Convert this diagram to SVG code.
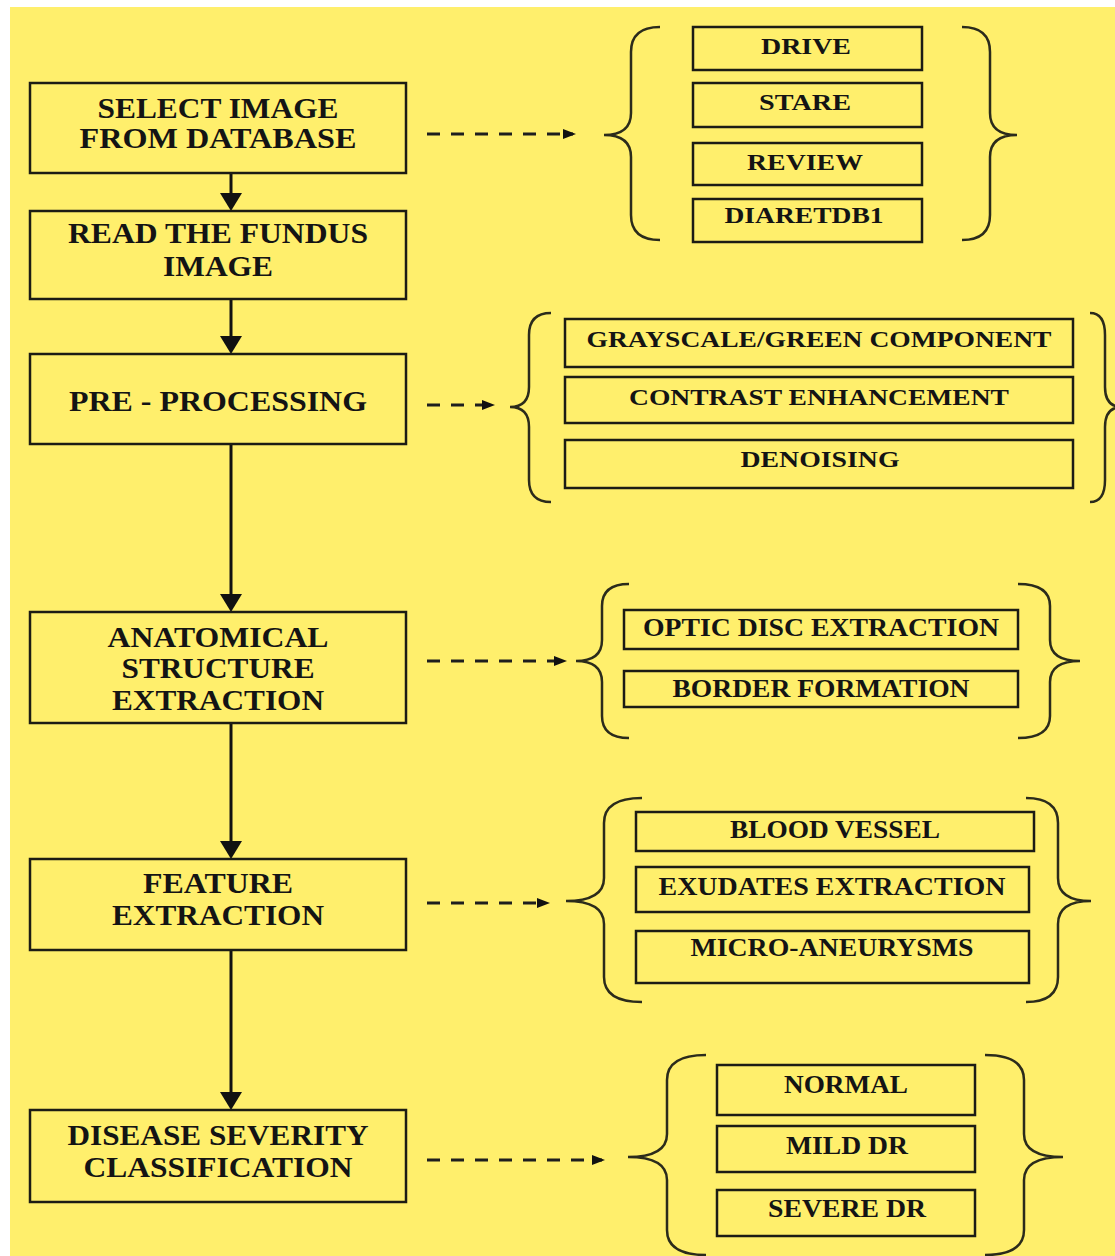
<svg xmlns="http://www.w3.org/2000/svg" width="1115" height="1256" viewBox="0 0 1115 1256">
<style>
.bg{fill:#FFEF6C}
.box{fill:none;stroke:#1c1c14;stroke-width:2.5}
.brace{fill:none;stroke:#2b2b1b;stroke-width:2.5}
.t{font-family:"Liberation Serif","Times New Roman",serif;font-weight:bold;text-anchor:middle;fill:#141414}
.big{font-size:29px}
.sm{font-size:24px}
.flow{fill:none;stroke:#111;stroke-width:3;marker-end:url(#ah)}
.dash{fill:none;stroke:#1e1e1e;stroke-width:3;stroke-dasharray:13 11;marker-end:url(#ahs)}
</style>
<defs>
<marker id="ah" viewBox="0 0 18 22" refX="14" refY="11" markerWidth="18" markerHeight="22" markerUnits="userSpaceOnUse" orient="auto">
<path d="M0,0 L18,11 L0,22 Z" fill="#111"/>
</marker>
<marker id="ahs" viewBox="0 0 13 10" refX="10" refY="5" markerWidth="13" markerHeight="10" markerUnits="userSpaceOnUse" orient="auto">
<path d="M0,0 L13,5 L0,10 Z" fill="#111"/>
</marker>
</defs>
<rect class="bg" x="10" y="7" width="1105" height="1249"/>

<g id="connectors">
<line class="flow" x1="231" y1="173" x2="231" y2="207"/>
<line class="flow" x1="231" y1="299" x2="231" y2="350"/>
<line class="flow" x1="231" y1="444" x2="231" y2="608"/>
<line class="flow" x1="231" y1="723" x2="231" y2="855"/>
<line class="flow" x1="231" y1="950" x2="231" y2="1106"/>
<line class="dash" x1="427" y1="134" x2="573" y2="134"/>
<line class="dash" x1="427" y1="405" x2="492" y2="405"/>
<line class="dash" x1="427" y1="661" x2="564" y2="661"/>
<line class="dash" x1="427" y1="903" x2="547" y2="903"/>
<line class="dash" x1="427" y1="1160" x2="602" y2="1160"/>
</g>

<g id="select-image">
<rect class="box" x="30" y="83" width="376" height="90"/>
<text class="t big" x="218" y="118" textLength="241" lengthAdjust="spacingAndGlyphs">SELECT IMAGE</text>
<text class="t big" x="218" y="148" textLength="277" lengthAdjust="spacingAndGlyphs">FROM DATABASE</text>
</g>
<g id="read-fundus">
<rect class="box" x="30" y="211" width="376" height="88"/>
<text class="t big" x="218" y="243" textLength="300" lengthAdjust="spacingAndGlyphs">READ THE FUNDUS</text>
<text class="t big" x="218" y="276" textLength="110" lengthAdjust="spacingAndGlyphs">IMAGE</text>
</g>
<g id="pre-processing">
<rect class="box" x="30" y="354" width="376" height="90"/>
<text class="t big" x="218" y="411" textLength="298" lengthAdjust="spacingAndGlyphs">PRE - PROCESSING</text>
</g>
<g id="anatomical">
<rect class="box" x="30" y="612" width="376" height="111"/>
<text class="t big" x="218" y="647" textLength="221" lengthAdjust="spacingAndGlyphs">ANATOMICAL</text>
<text class="t big" x="218" y="678" textLength="193" lengthAdjust="spacingAndGlyphs">STRUCTURE</text>
<text class="t big" x="218" y="710" textLength="212" lengthAdjust="spacingAndGlyphs">EXTRACTION</text>
</g>
<g id="feature">
<rect class="box" x="30" y="859" width="376" height="91"/>
<text class="t big" x="218" y="893" textLength="150" lengthAdjust="spacingAndGlyphs">FEATURE</text>
<text class="t big" x="218" y="925" textLength="212" lengthAdjust="spacingAndGlyphs">EXTRACTION</text>
</g>
<g id="severity">
<rect class="box" x="30" y="1110" width="376" height="92"/>
<text class="t big" x="218" y="1145" textLength="301" lengthAdjust="spacingAndGlyphs">DISEASE SEVERITY</text>
<text class="t big" x="218" y="1177" textLength="269" lengthAdjust="spacingAndGlyphs">CLASSIFICATION</text>
</g>

<g id="databases">
<path class="brace" d="M660,27 Q631,27 631,52 L631,113 Q631,135 604,135 Q631,135 631,157 L631,215 Q631,240 660,240"/>
<path class="brace" d="M962,27 Q990,27 990,52 L990,113 Q990,135 1017,135 Q990,135 990,157 L990,215 Q990,240 962,240"/>
<rect class="box" x="693" y="27" width="229" height="43"/>
<rect class="box" x="693" y="83" width="229" height="44"/>
<rect class="box" x="693" y="143" width="229" height="42"/>
<rect class="box" x="693" y="199" width="229" height="43"/>
<text class="t sm" x="806" y="54" textLength="90" lengthAdjust="spacingAndGlyphs">DRIVE</text>
<text class="t sm" x="805" y="110" textLength="92" lengthAdjust="spacingAndGlyphs">STARE</text>
<text class="t sm" x="805" y="170" textLength="116" lengthAdjust="spacingAndGlyphs">REVIEW</text>
<text class="t sm" x="804" y="223" textLength="159" lengthAdjust="spacingAndGlyphs">DIARETDB1</text>
</g>

<g id="preprocessing-steps">
<path class="brace" d="M551,313 Q529,313 529,335 L529,387 Q529,407 510,407 Q529,407 529,427 L529,480 Q529,502 551,502"/>
<path class="brace" d="M1090,313 Q1105,313 1105,335 L1105,387 Q1105,407 1122,407 Q1105,407 1105,427 L1105,480 Q1105,502 1090,502"/>
<rect class="box" x="565" y="319" width="508" height="48"/>
<rect class="box" x="565" y="377" width="508" height="46"/>
<rect class="box" x="565" y="440" width="508" height="48"/>
<text class="t" style="font-size:23px" x="819" y="347" textLength="465" lengthAdjust="spacingAndGlyphs">GRAYSCALE/GREEN COMPONENT</text>
<text class="t" style="font-size:23px" x="819" y="405" textLength="380" lengthAdjust="spacingAndGlyphs">CONTRAST ENHANCEMENT</text>
<text class="t" style="font-size:23px" x="820" y="467" textLength="159" lengthAdjust="spacingAndGlyphs">DENOISING</text>
</g>

<g id="anatomical-steps">
<path class="brace" d="M629,584 Q602,584 602,606 L602,640 Q602,661 576,661 Q602,661 602,682 L602,716 Q602,738 629,738"/>
<path class="brace" d="M1018,584 Q1050,584 1050,606 L1050,640 Q1050,661 1080,661 Q1050,661 1050,682 L1050,716 Q1050,738 1018,738"/>
<rect class="box" x="624" y="610" width="394" height="39"/>
<rect class="box" x="624" y="671" width="394" height="36"/>
<text class="t" style="font-size:25px" x="821" y="636" textLength="356" lengthAdjust="spacingAndGlyphs">OPTIC DISC EXTRACTION</text>
<text class="t" style="font-size:25px" x="821" y="697" textLength="297" lengthAdjust="spacingAndGlyphs">BORDER FORMATION</text>
</g>

<g id="feature-steps">
<path class="brace" d="M642,798 Q604,798 604,823 L604,878 Q604,901 566,901 Q604,901 604,924 L604,977 Q604,1002 642,1002"/>
<path class="brace" d="M1026,798 Q1058,798 1058,823 L1058,878 Q1058,901 1091,901 Q1058,901 1058,924 L1058,977 Q1058,1002 1026,1002"/>
<rect class="box" x="636" y="812" width="398" height="39"/>
<rect class="box" x="636" y="867" width="393" height="45"/>
<rect class="box" x="636" y="931" width="393" height="52"/>
<text class="t" style="font-size:25px" x="835" y="838" textLength="210" lengthAdjust="spacingAndGlyphs">BLOOD VESSEL</text>
<text class="t" style="font-size:25px" x="832" y="895" textLength="347" lengthAdjust="spacingAndGlyphs">EXUDATES EXTRACTION</text>
<text class="t" style="font-size:25px" x="832" y="956" textLength="283" lengthAdjust="spacingAndGlyphs">MICRO-ANEURYSMS</text>
</g>

<g id="severity-classes">
<path class="brace" d="M706,1055 Q667,1055 667,1080 L667,1134 Q667,1157 628,1157 Q667,1157 667,1180 L667,1230 Q667,1255 706,1255"/>
<path class="brace" d="M985,1055 Q1024,1055 1024,1080 L1024,1134 Q1024,1157 1063,1157 Q1024,1157 1024,1180 L1024,1230 Q1024,1255 985,1255"/>
<rect class="box" x="717" y="1065" width="258" height="50"/>
<rect class="box" x="717" y="1126" width="258" height="46"/>
<rect class="box" x="717" y="1190" width="258" height="46"/>
<text class="t" style="font-size:25px" x="846" y="1093" textLength="124" lengthAdjust="spacingAndGlyphs">NORMAL</text>
<text class="t" style="font-size:25px" x="847" y="1154" textLength="122" lengthAdjust="spacingAndGlyphs">MILD DR</text>
<text class="t" style="font-size:25px" x="847" y="1217" textLength="158" lengthAdjust="spacingAndGlyphs">SEVERE DR</text>
</g>
</svg>
